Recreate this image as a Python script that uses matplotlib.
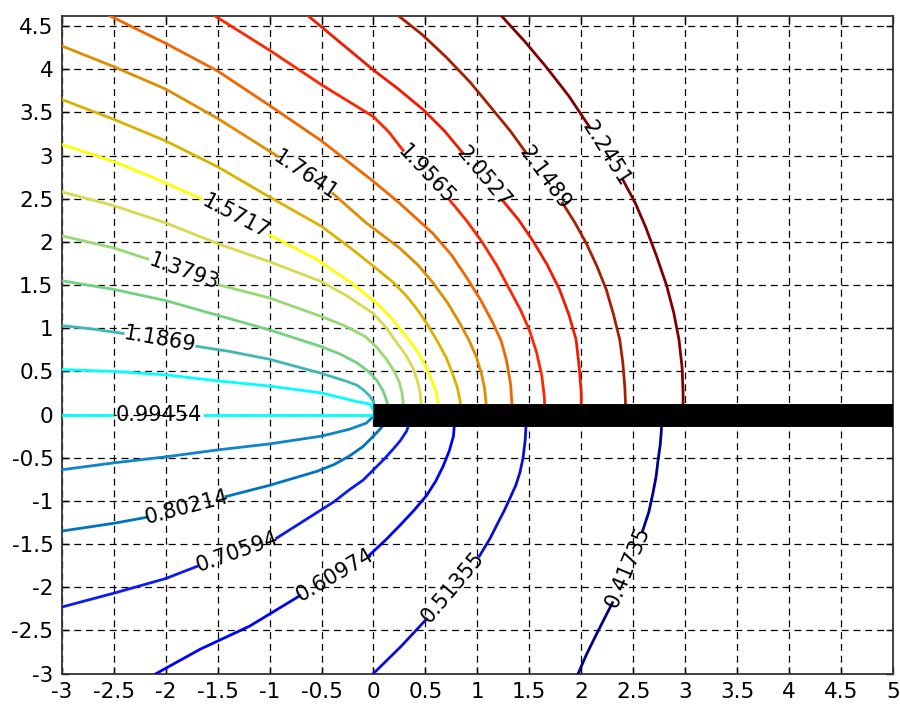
import numpy as np
import matplotlib
matplotlib.use("Agg")
import matplotlib.pyplot as plt

plt.rcParams['lines.scale_dashes'] = False

# ---- data -----------------------------------------------------------------
levels = [0.41735, 0.51355, 0.60974, 0.70594, 0.80214, 0.89834, 0.99454,
          1.0907, 1.1869, 1.2831, 1.3793, 1.4755, 1.5717, 1.6679, 1.7641,
          1.8603, 1.9565, 2.0527, 2.1489, 2.2451]
level_labels = ["0.41735", "0.51355", "0.60974", "0.70594", "0.80214", "0.89834",
                "0.99454", "1.0907", "1.1869", "1.2831", "1.3793", "1.4755",
                "1.5717", "1.6679", "1.7641", "1.8603", "1.9565", "2.0527",
                "2.1489", "2.2451"]

c00_x = [1.97, 2.05, 2.14, 2.22, 2.30, 2.59, 2.65, 2.69, 2.72, 2.74, 2.76, 2.77, 2.78]
c00_y = [-3.0, -2.78, -2.56, -2.37, -2.18, -1.35, -1.13, -0.91, -0.72, -0.52, -0.35, -0.20, 0.0]
c01_x = [0.0, 0.27, 0.51, 1.02, 1.12, 1.20, 1.26, 1.31, 1.37, 1.41, 1.44, 1.46, 1.47, 1.47]
c01_y = [-3.0, -2.68, -2.37, -1.64, -1.44, -1.25, -1.11, -0.98, -0.82, -0.67, -0.50, -0.30, -0.10, 0.0]
c02_x = [-2.09, -1.67, -1.19, -0.71, -0.04, 0.12, 0.25, 0.39, 0.51, 0.60, 0.67, 0.73, 0.77, 0.78, 0.79]
c02_y = [-3.0, -2.72, -2.45, -2.10, -1.63, -1.45, -1.29, -1.11, -0.94, -0.77, -0.60, -0.42, -0.25, -0.10, 0.0]
c03_x = [-3.0, -2.5, -2.0, -1.70, -0.93, -0.55, -0.38, -0.23, -0.10, 0.0, 0.10, 0.19, 0.26, 0.32, 0.35, 0.36]
c03_y = [-2.23, -2.07, -1.90, -1.76, -1.43, -1.14, -1.01, -0.87, -0.76, -0.64, -0.52, -0.40, -0.30, -0.19, -0.08, 0.0]
c04_x = [-3.0, -2.5, -2.18, -1.42, -1.0, -0.55, -0.38, -0.23, -0.10, 0.0, 0.07, 0.125, 0.14]
c04_y = [-1.35, -1.26, -1.19, -0.95, -0.82, -0.66, -0.58, -0.48, -0.37, -0.25, -0.16, -0.08, 0.0]
c05_x = [-3.0, -2.5, -2.0, -1.5, -1.0, -0.5, -0.23, -0.07, 0.02]
c05_y = [-0.64, -0.56, -0.49, -0.41, -0.34, -0.25, -0.17, -0.10, 0.0]
c06_x = [-3.0, -2.52, -1.62, 0.0]
c06_y = [0.0, 0.0, 0.0, 0.0]
c07_x = [-3.0, -2.5, -2.0, -1.5, -1.0, -0.5, -0.16, -0.03, 0.02]
c07_y = [0.52, 0.50, 0.46, 0.39, 0.33, 0.25, 0.15, 0.12, 0.0]
c08_x = [-3.0, -2.7, -2.41, -1.70, -1.38, -1.0, -0.51, -0.26, -0.16, -0.10, -0.04, 0.0, 0.02]
c08_y = [1.03, 0.99, 0.94, 0.79, 0.73, 0.64, 0.48, 0.385, 0.34, 0.29, 0.22, 0.15, 0.0]
c09_x = [-3.0, -2.5, -2.0, -1.5, -1.0, -0.51, -0.32, -0.16, -0.05, 0.03, 0.09, 0.13, 0.14]
c09_y = [1.55, 1.45, 1.32, 1.15, 0.98, 0.79, 0.70, 0.60, 0.50, 0.40, 0.28, 0.15, 0.0]
c10_x = [-3.0, -2.5, -2.17, -1.48, -1.0, -0.51, -0.28, -0.08, 0.03, 0.125, 0.20, 0.25, 0.275, 0.285, 0.29]
c10_y = [2.07, 1.93, 1.80, 1.50, 1.35, 1.14, 1.03, 0.905, 0.78, 0.64, 0.50, 0.37, 0.25, 0.15, 0.0]
c11_x = [-3.0, -2.5, -2.0, -1.5, -1.0, -0.5, -0.25, 0.0, 0.12, 0.22, 0.31, 0.38, 0.42, 0.45, 0.46, 0.46]
c11_y = [2.58, 2.42, 2.22, 1.98, 1.77, 1.54, 1.37, 1.17, 1.01, 0.84, 0.69, 0.54, 0.40, 0.25, 0.10, 0.0]
c12_x = [-3.0, -2.5, -2.15, -1.66, -1.0, -0.55, -0.23, 0.05, 0.17, 0.27, 0.37, 0.45, 0.51, 0.56, 0.60, 0.62, 0.64]
c12_y = [3.13, 2.93, 2.76, 2.50, 2.08, 1.80, 1.54, 1.27, 1.12, 0.97, 0.82, 0.68, 0.54, 0.40, 0.27, 0.15, 0.0]
c13_x = [-3.0, -2.5, -2.0, -1.5, -1.0, -0.5, -0.2, 0.06, 0.20, 0.32, 0.42, 0.51, 0.61, 0.70, 0.76, 0.81, 0.835, 0.846]
c13_y = [3.65, 3.42, 3.17, 2.87, 2.52, 2.18, 1.91, 1.66, 1.52, 1.37, 1.22, 1.06, 0.86, 0.66, 0.48, 0.30, 0.15, 0.0]
c14_x = [-3.0, -2.5, -2.0, -1.5, -0.92, -0.39, -0.07, 0.25, 0.43, 0.57, 0.71, 0.83, 0.92, 0.99, 1.04, 1.07, 1.085, 1.09]
c14_y = [4.27, 4.03, 3.77, 3.43, 2.99, 2.56, 2.22, 1.93, 1.73, 1.53, 1.30, 1.06, 0.86, 0.67, 0.47, 0.30, 0.12, 0.0]
c15_x = [-2.54, -2.0, -1.5, -1.0, -0.5, 0.0, 0.25, 0.57, 0.75, 0.89, 1.03, 1.15, 1.23, 1.28, 1.32, 1.34]
c15_y = [4.62, 4.30, 3.98, 3.58, 3.17, 2.70, 2.45, 2.10, 1.85, 1.60, 1.33, 1.06, 0.85, 0.63, 0.35, 0.0]
c16_x = [-1.53, -1.0, -0.5, 0.0, 0.15, 0.285, 0.73, 0.90, 1.05, 1.19, 1.31, 1.42, 1.50, 1.57, 1.62, 1.645, 1.65]
c16_y = [4.62, 4.22, 3.82, 3.45, 3.27, 3.06, 2.49, 2.24, 1.99, 1.72, 1.45, 1.20, 0.98, 0.72, 0.45, 0.20, 0.0]
c17_x = [-0.63, -0.32, 0.0, 0.24, 0.48, 0.68, 0.86, 1.25, 1.40, 1.53, 1.67, 1.79, 1.88, 1.95, 1.98, 2.0, 2.0]
c17_y = [4.62, 4.31, 3.99, 3.77, 3.53, 3.29, 3.03, 2.47, 2.25, 2.02, 1.74, 1.45, 1.16, 0.87, 0.55, 0.25, 0.0]
c18_x = [0.24, 0.47, 0.70, 0.93, 1.15, 1.32, 1.47, 1.82, 1.94, 2.05, 2.15, 2.24, 2.31, 2.37, 2.40, 2.42, 2.43]
c18_y = [4.62, 4.40, 4.14, 3.85, 3.53, 3.28, 3.03, 2.45, 2.22, 1.98, 1.72, 1.45, 1.16, 0.87, 0.60, 0.30, 0.0]
c19_x = [1.23, 1.45, 1.66, 1.88, 2.08, 2.40, 2.52, 2.62, 2.72, 2.82, 2.89, 2.94, 2.97, 2.98, 2.98]
c19_y = [4.62, 4.33, 4.03, 3.69, 3.33, 2.72, 2.45, 2.17, 1.85, 1.50, 1.18, 0.87, 0.55, 0.25, 0.0]

# index i: the inline label sits between point i and i+1 (None = unlabeled)
label_gap = [4, 2, 3, 3, 2, None, 1, None, 2, None, 2, None, 3, None, 4,
             None, 5, 6, 6, 4]

# the slit (black bar)
slit_x = [0.0, 5.0]
slit_y = [0.0, 0.0]

xticks = [-3, -2.5, -2, -1.5, -1, -0.5, 0, 0.5, 1, 1.5, 2, 2.5, 3, 3.5, 4, 4.5, 5]
yticks = [-3, -2.5, -2, -1.5, -1, -0.5, 0, 0.5, 1, 1.5, 2, 2.5, 3, 3.5, 4, 4.5]
tick_labels_x = ["-3", "-2.5", "-2", "-1.5", "-1", "-0.5", "0", "0.5", "1", "1.5",
                 "2", "2.5", "3", "3.5", "4", "4.5", "5"]
tick_labels_y = ["-3", "-2.5", "-2", "-1.5", "-1", "-0.5", "0", "0.5", "1", "1.5",
                 "2", "2.5", "3", "3.5", "4", "4.5"]

# ---- styles ---------------------------------------------------------------
colors = [(0.0, 0.0, 0.55), (0.05, 0.05, 0.80), (0.0, 0.0, 1.0), (0.05, 0.1, 0.95),
          (0.0, 0.45, 0.75), (0.05, 0.52, 0.78), (0.0, 1.0, 1.0), (0.0, 1.0, 1.0),
          (0.25, 0.72, 0.72), (0.45, 0.82, 0.50), (0.60, 0.85, 0.45), (0.85, 0.85, 0.30),
          (1.0, 1.0, 0.0), (0.85, 0.70, 0.0), (0.88, 0.55, 0.0), (0.95, 0.40, 0.0),
          (1.0, 0.15, 0.0), (0.95, 0.10, 0.0), (0.65, 0.12, 0.0), (0.50, 0.0, 0.0)]

contours_x = [c00_x, c01_x, c02_x, c03_x, c04_x, c05_x, c06_x, c07_x, c08_x, c09_x,
              c10_x, c11_x, c12_x, c13_x, c14_x, c15_x, c16_x, c17_x, c18_x, c19_x]
contours_y = [c00_y, c01_y, c02_y, c03_y, c04_y, c05_y, c06_y, c07_y, c08_y, c09_y,
              c10_y, c11_y, c12_y, c13_y, c14_y, c15_y, c16_y, c17_y, c18_y, c19_y]

fig = plt.figure(figsize=(9.0, 7.04), dpi=100)
ax = fig.add_axes([0.0686, 0.0433, 0.9236, 0.9344])
ax.set_xlim(-3, 5)
ax.set_ylim(-3, 4.62)

ax.set_xticks(xticks)
ax.set_xticklabels(tick_labels_x)
ax.set_yticks(yticks)
ax.set_yticklabels(tick_labels_y)
ax.tick_params(direction='in', length=5, width=1, top=True, right=True,
               labelsize=15.5, pad=6)
ax.grid(True, color='k', linestyle=(0, (5, 3.5)), linewidth=0.9)
ax.set_axisbelow(True)
for s in ax.spines.values():
    s.set_linewidth(1.3)
    s.set_color('#333333')

lw = 2.0
for xs, ys, col, gap, txt in zip(contours_x, contours_y, colors, label_gap, level_labels):
    xs = np.asarray(xs, float)
    ys = np.asarray(ys, float)
    if gap is None:
        ax.plot(xs, ys, color=col, lw=lw, zorder=3, solid_joinstyle='round')
    else:
        ax.plot(xs[:gap + 1], ys[:gap + 1], color=col, lw=lw, zorder=3,
                solid_joinstyle='round')
        ax.plot(xs[gap + 1:], ys[gap + 1:], color=col, lw=lw, zorder=3,
                solid_joinstyle='round')
        p0 = ax.transData.transform((xs[gap], ys[gap]))
        p1 = ax.transData.transform((xs[gap + 1], ys[gap + 1]))
        ang = np.degrees(np.arctan2(p1[1] - p0[1], p1[0] - p0[0]))
        if ang > 90:
            ang -= 180
        if ang < -90:
            ang += 180
        mx = 0.5 * (xs[gap] + xs[gap + 1])
        my = 0.5 * (ys[gap] + ys[gap + 1])
        ax.text(mx, my, txt, rotation=ang, rotation_mode='anchor',
                ha='center', va='center', fontsize=15, color='k', zorder=5)

ax.plot(slit_x, slit_y, color='k', lw=16.5, solid_capstyle='butt', zorder=4,
        clip_on=True)

fig.savefig("out.png", dpi=100)
